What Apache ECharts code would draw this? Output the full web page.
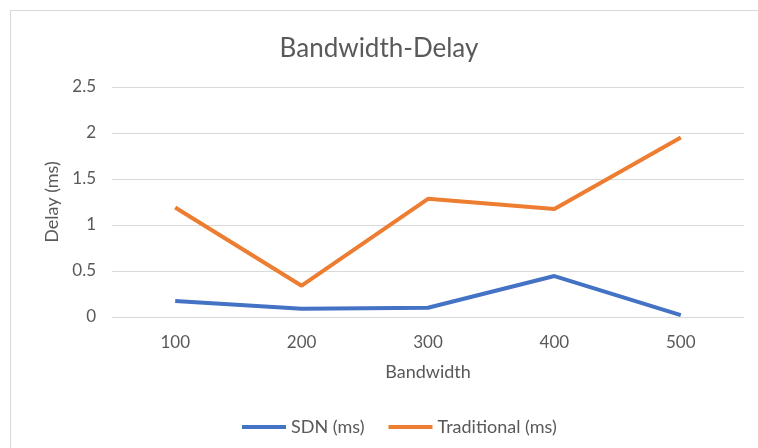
<!DOCTYPE html>
<html>
<head>
<meta charset="utf-8">
<script src="https://cdn.jsdelivr.net/npm/echarts@6/dist/echarts.min.js"></script>
<style>
  html, body { margin: 0; padding: 0; background: #fff; overflow: hidden; }
  #frame { position: absolute; left: 10px; top: 10px; width: 800px; height: 500px; border: 1px solid #d9d9d9; }
  #chart { position: absolute; left: 0; top: 0; width: 758px; height: 448px; }
</style>
</head>
<body>
<div id="frame"></div>
<div id="chart"></div>
<script>
const bandwidth = ['100', '200', '300', '400', '500'];
const sdnDelay = [0.175, 0.09, 0.1, 0.445, 0.02];
const traditionalDelay = [1.19, 0.34, 1.285, 1.175, 1.95];

const font = 'Lato, "Noto Sans", sans-serif';
const textColor = '#595959';

const chart = echarts.init(document.getElementById('chart'));

const option = {
  animation: false,
  title: {
    text: 'Bandwidth-Delay',
    left: 'center',
    top: 31,
    textStyle: { fontFamily: font, fontSize: 26, fontWeight: 'normal', color: textColor }
  },
  legend: {
    bottom: 7,
    left: 237,
    itemWidth: 44,
    itemHeight: 4,
    itemGap: 24,
    icon: 'rect',
    textStyle: { fontFamily: font, fontSize: 18, color: textColor },
    data: ['SDN (ms)', 'Traditional (ms)']
  },
  grid: {
    left: 112,
    right: 14,
    top: 87,
    bottom: 131
  },
  xAxis: {
    type: 'category',
    data: bandwidth,
    boundaryGap: true,
    name: 'Bandwidth',
    nameLocation: 'middle',
    nameGap: 46,
    nameTextStyle: { fontFamily: font, fontSize: 18, color: textColor },
    axisLine: { lineStyle: { color: '#d9d9d9', width: 1 } },
    axisTick: { show: false },
    axisLabel: { fontFamily: font, fontSize: 17, color: textColor, margin: 17 }
  },
  yAxis: {
    type: 'value',
    min: 0,
    max: 2.5,
    interval: 0.5,
    name: 'Delay (ms)',
    nameLocation: 'middle',
    nameGap: 50,
    nameTextStyle: { fontFamily: font, fontSize: 18, color: textColor },
    axisLine: { show: false },
    axisTick: { show: false },
    axisLabel: { fontFamily: font, fontSize: 17, color: textColor, margin: 16 },
    splitLine: { lineStyle: { color: '#d9d9d9', width: 1 } }
  },
  series: [
    {
      name: 'SDN (ms)',
      type: 'line',
      data: sdnDelay,
      symbol: 'none',
      lineStyle: { width: 4, color: '#4472C4' },
      itemStyle: { color: '#4472C4' }
    },
    {
      name: 'Traditional (ms)',
      type: 'line',
      data: traditionalDelay,
      symbol: 'none',
      lineStyle: { width: 4, color: '#ED7D31' },
      itemStyle: { color: '#ED7D31' }
    }
  ]
};

chart.setOption(option);
window.addEventListener('resize', () => chart.resize());
</script>
</body>
</html>
